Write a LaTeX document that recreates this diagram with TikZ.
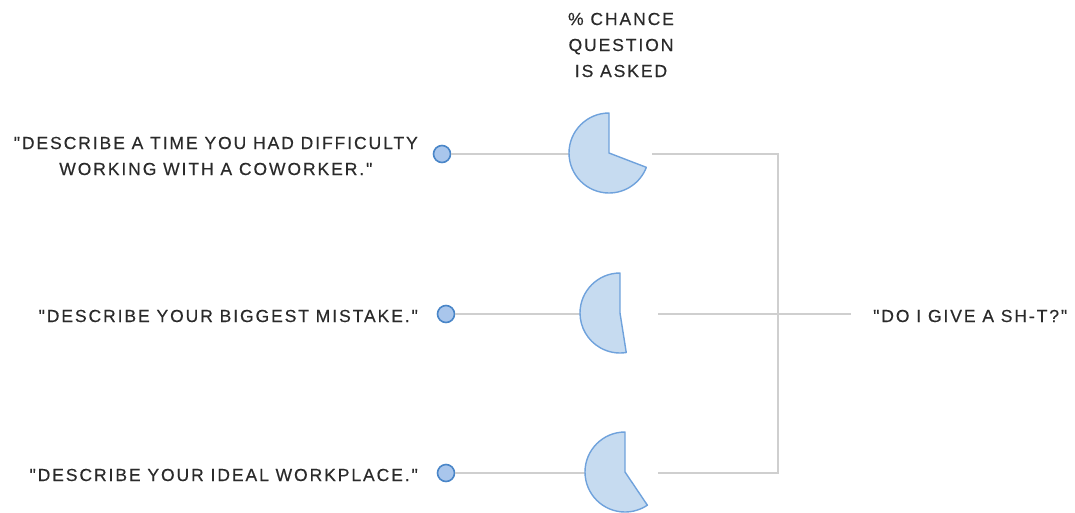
\documentclass[tikz,border=0pt]{standalone}
\usepackage{fontspec}
\setmainfont{Liberation Sans}[LetterSpace=11,FakeBold=0.4,Ligatures=TeXOff]
\usetikzlibrary{positioning}
\definecolor{pieFill}{HTML}{C6DBF0}
\definecolor{pieLine}{HTML}{6FA2DC}
\definecolor{dotFill}{HTML}{A9C6EC}
\definecolor{dotLine}{HTML}{4A86C8}
\definecolor{wireGray}{HTML}{CFCFCF}
\definecolor{txt}{HTML}{2A2A2A}
\tikzset{
  wire/.style={draw=wireGray, line width=1.3pt},
  dot/.style={circle, fill=dotFill, draw=dotLine, line width=1.6pt, minimum size=17pt, inner sep=0pt},
  pie/.style={fill=pieFill, draw=pieLine, line width=1.4pt, line join=round},
  lbl/.style={font=\fontsize{17.5}{26}\selectfont, text=txt, align=center, inner sep=0pt}
}
\begin{document}
\begin{tikzpicture}[x=1pt,y=1pt]
\useasboundingbox (0,0) rectangle (1075,-512);
% header
\node[lbl] (head) at (621,-45) {\% CHANCE\\QUESTION\\IS ASKED};
% questions
\node[lbl, anchor=east] (q1) at (418,-156) {"DESCRIBE A TIME YOU HAD DIFFICULTY\\WORKING WITH A COWORKER."};
\node[lbl, anchor=east] (q2) at (418,-316) {"DESCRIBE YOUR BIGGEST MISTAKE."};
\node[lbl, anchor=east] (q3) at (418,-475) {"DESCRIBE YOUR IDEAL WORKPLACE."};
\node[lbl, anchor=west] (ans) at (873,-316) {"DO I GIVE A SH-T?"};
% markers
\node[dot] (m1) at (442,-154) {};
\node[dot] (m2) at (446,-314) {};
\node[dot] (m3) at (446,-473) {};
% pie centres
\coordinate (p1) at (609,-153);
\coordinate (p2) at (620,-313);
\coordinate (p3) at (625,-472);
\coordinate (a1) at (569,-154);
\coordinate (a2) at (580,-314);
\coordinate (a3) at (585,-473);
\coordinate (o1) at (652,-154);
\coordinate (o2) at (658,-314);
\coordinate (o3) at (658,-473);
\coordinate (k1) at (778,-154);
\coordinate (k3) at (778,-473);
% wires
\draw[wire] (m1) -- (a1);
\draw[wire] (m2) -- (a2);
\draw[wire] (m3) -- (a3);
\draw[wire, line join=miter] (o1) -- (k1) -- (k3) -- (o3);
\draw[wire] (o2) -- ([xshift=-22pt]o2 -| ans.west);
% pies
\draw[pie] (p1) -- ++(90:40) arc[start angle=90, end angle=339, radius=40] -- cycle;
\draw[pie] (p2) -- ++(90:40) arc[start angle=90, end angle=279, radius=40] -- cycle;
\draw[pie] (p3) -- ++(90:40) arc[start angle=90, end angle=304, radius=40] -- cycle;
\end{tikzpicture}
\end{document}
